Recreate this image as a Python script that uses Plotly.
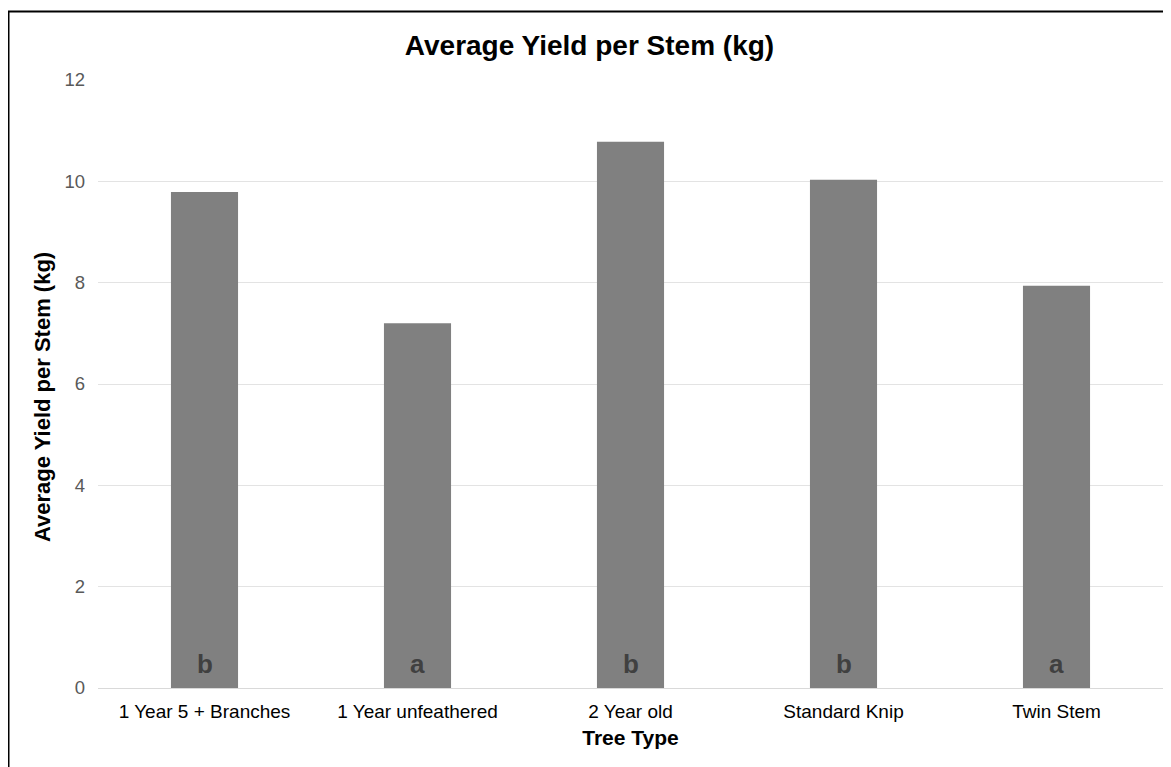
import plotly.graph_objects as go

categories = ["1 Year 5 + Branches", "1 Year unfeathered", "2 Year old", "Standard Knip", "Twin Stem"]
yield_kg = [9.79, 7.20, 10.78, 10.03, 7.94]
sig_letters = ["b", "a", "b", "b", "a"]
y_ticks = [0, 2, 4, 6, 8, 10, 12]

# page offset of the figure div (default body margin)
OFF = 8
W, H = 1171 - OFF, 767 - OFF
L, T = 98 - OFF, 80 - OFF
pw, ph = 1065, 608
R = W - L - pw
B = H - T - ph

FONT = "Liberation Sans, Arial, sans-serif"

fig = go.Figure()
fig.add_trace(go.Bar(
    x=categories, y=yield_kg,
    marker=dict(color="#808080", line=dict(width=0)),
    width=0.315,
    hoverinfo="x+y",
))

annotations = []
for c, s in zip(categories, sig_letters):
    annotations.append(dict(
        x=c, y=0, xref="x", yref="y", text="<b>%s</b>" % s, showarrow=False,
        yanchor="bottom", yshift=7,
        font=dict(family=FONT, size=26, color="#404040"),
    ))

# y-axis title as annotation for precise placement
annotations.append(dict(
    x=(43 - OFF - L) / pw, y=(T + ph - (397 - OFF)) / ph, xref="paper", yref="paper",
    text="<b>Average Yield per Stem (kg)</b>", showarrow=False, textangle=-90,
    xanchor="center", yanchor="middle",
    font=dict(family=FONT, size=22, color="#000000"),
))

fig.update_layout(
    width=W, height=H,
    margin=dict(l=L, r=R, t=T, b=B, pad=0),
    paper_bgcolor="white", plot_bgcolor="white",
    font=dict(family=FONT),
    title=dict(
        text="<b>Average Yield per Stem (kg)</b>",
        x=(589.5 - OFF) / W, xanchor="center", xref="container",
        y=1 - (45 - OFF) / H, yanchor="middle", yref="container",
        font=dict(size=28, color="#000000"),
    ),
    showlegend=False,
    bargap=0.685,
    xaxis=dict(
        showgrid=False, showline=True, linecolor="#d9d9d9", linewidth=1,
        ticks="", tickfont=dict(size=19, color="#000000"),
        ticklabelstandoff=6,
        title=dict(text="<b>Tree Type</b>", font=dict(size=21, color="#000000"), standoff=9),
        zeroline=False,
    ),
    yaxis=dict(
        range=[0, 12], tickvals=y_ticks,
        showgrid=True, gridcolor="#e3e3e3", gridwidth=1,
        zeroline=False, showline=False, ticks="",
        tickfont=dict(size=18.5, color="#595959"),
        ticklabelstandoff=12,
    ),
    annotations=annotations,
    shapes=[dict(
        type="rect", xref="paper", yref="paper",
        x0=(8.5 - OFF - L) / pw, x1=(W + 30 - L) / pw,
        y0=(T + ph - (H + 30)) / ph, y1=(T + ph - (11.5 - OFF)) / ph,
        line=dict(color="#000000", width=2), fillcolor="rgba(0,0,0,0)",
        layer="above",
    )],
)

fig.write_html("out.html")
